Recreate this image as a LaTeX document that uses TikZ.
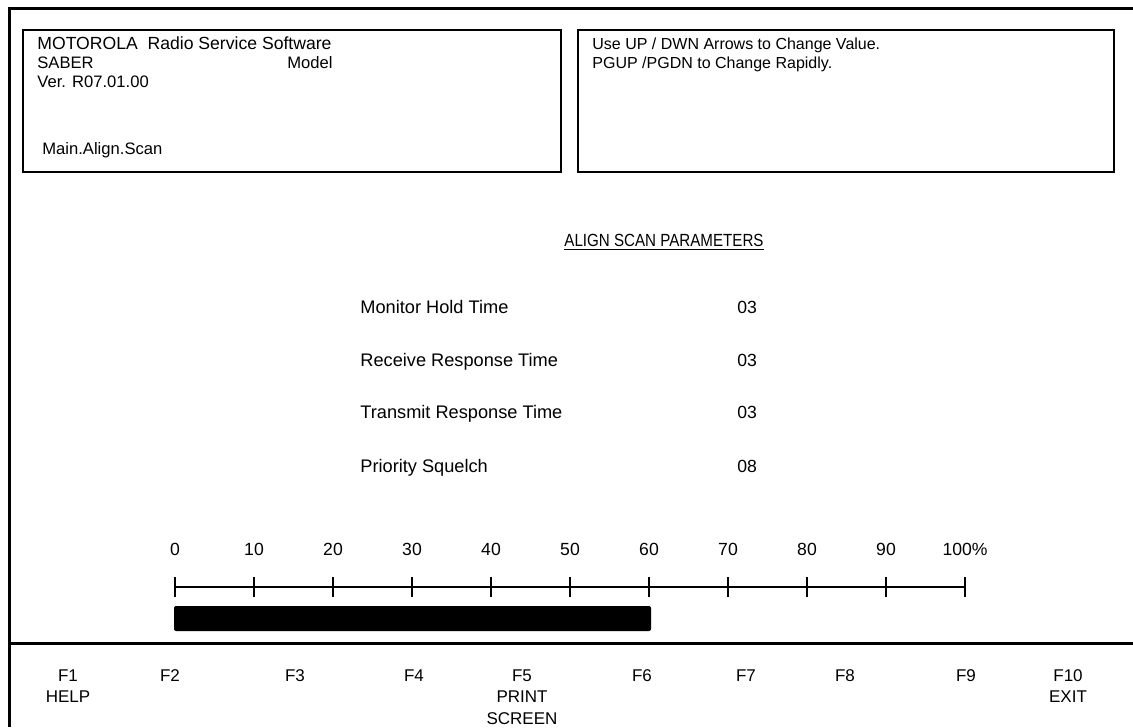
\documentclass[tikz,border=0pt]{standalone}
\usepackage{fontspec}
\setmainfont{Liberation Sans}
\begin{document}
\begin{tikzpicture}[x=0.5pt,y=-0.5pt,
  txt/.style={inner sep=0pt,anchor=base west,font=\fontsize{8.3}{10}\selectfont},
  ptxt/.style={inner sep=0pt,anchor=base west,font=\fontsize{9.1}{10}\selectfont},
  ctxt/.style={inner sep=0pt,anchor=base,font=\fontsize{8.8}{10}\selectfont},
  fkey/.style={inner sep=0pt,anchor=north,align=center,font=\fontsize{8.5}{10.8}\selectfont},
  frame/.style={line width=1.5pt},
  infobox/.style={line width=1pt},
  tick/.style={line width=0.9pt}]
\useasboundingbox (0,0) rectangle (1133,727);
% outer frame
\draw[frame] (9,727) -- (9,9) -- (1133,9);
\draw[frame] (9,643) -- (1133,643);
% header boxes
\draw[infobox] (23,30) rectangle (561,172);
\draw[infobox] (578,30) rectangle (1114,172);
\node[txt,font=\fontsize{8.8}{10}\selectfont] (t1) at (37,50) {MOTOROLA\ \ Radio Service Software};
\node[txt] (t2) at (37,69) {SABER};
\node[txt] (t3) at (287,69) {Model};
\node[txt] (t4) at (37,88) {Ver. R07.01.00};
\node[txt] (t5) at (42,155) {Main.Align.Scan};
\node[txt,font=\fontsize{8}{10}\selectfont] (h1) at (592,50) {Use UP / DWN Arrows to Change Value.};
\node[txt,font=\fontsize{8}{10}\selectfont] (h2) at (592,69) {PGUP /PGDN to Change Rapidly.};
% title
\node[ctxt,font=\fontsize{8.8}{10}\selectfont] (title) at (664,246) {\scalebox{0.86}[1]{\underline{ALIGN SCAN PARAMETERS}}};
% parameters
\foreach \lab/\val/\y [count=\i] in {Monitor Hold Time/03/313,Receive Response Time/03/366,Transmit Response Time/03/418,Priority Squelch/08/472}{
  \node[ptxt] (p\i) at (360,\y) {\lab};
  \node[txt,font=\fontsize{8.8}{10}\selectfont] (v\i) at (737,\y) {\val};
}
% scale
\foreach \n [count=\i from 0] in {0,10,20,30,40,50,60,70,80,90}{
  \node[ctxt] (s\i) at ({175+79*\i},555) {\n};
  \coordinate (k\i) at ({175+79*\i},587);
  \draw[tick] ({175+79*\i},577) -- ({175+79*\i},597);
}
\node[ctxt] (s10) at (965,555) {100\%};
\coordinate (k10) at (965,587);
\draw[tick] (965,577) -- (965,597);
\draw[tick] (k0) -- (k10);
\fill[rounded corners=1pt] (174,606) rectangle (651,631);
% function keys
\foreach \k/\x [count=\i] in {F1\\HELP/68,F2/170,F3/295,F4/414,F5\\PRINT\\SCREEN/522,F6/642,F7/746,F8/845,F9/966,F10\\EXIT/1068}{
  \node[fkey] (f\i) at (\x,669) {\k};
}
\end{tikzpicture}
\end{document}
